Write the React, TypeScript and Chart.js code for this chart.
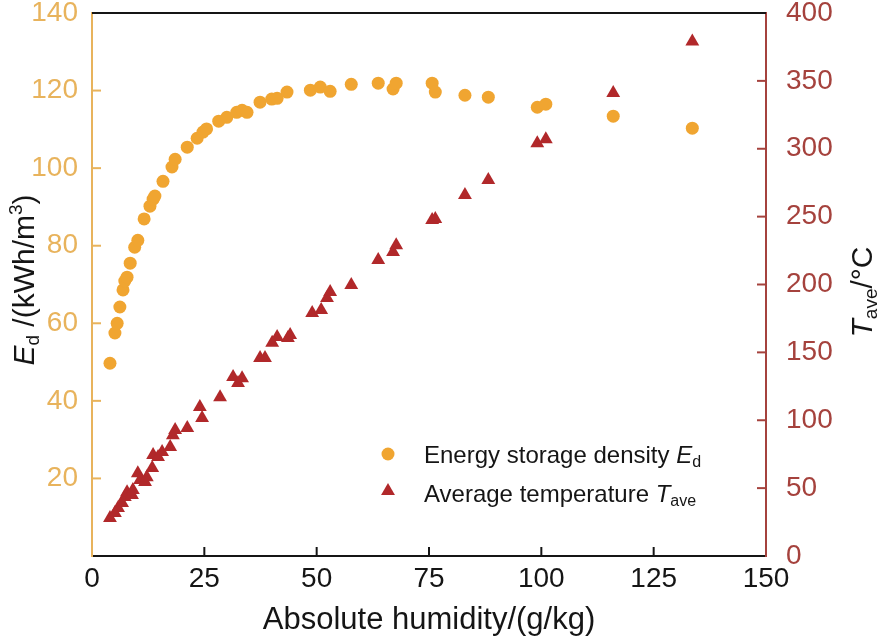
import React, { useEffect, useRef } from 'react';
import { Chart, registerables } from 'chart.js';

Chart.register(...registerables);

const FONT = '"Liberation Sans", Arial, Helvetica, sans-serif';
const ORANGE = '#F0A531';
const ORANGE_AXIS = '#E8B35C';
const RED = '#B1282A';
const RED_AXIS = '#A5423D';
const INK = '#151515';

// Energy storage density Ed (kWh/m3) vs absolute humidity (g/kg)
const edHumidity = [4.0, 5.1, 5.6, 6.2, 6.9, 7.3, 7.8, 8.5, 9.5, 10.2, 11.6, 12.9, 13.6, 14.0, 15.8, 17.8, 18.5, 21.2, 23.4, 24.7, 25.5, 28.2, 30.0, 32.2, 33.4, 34.5, 37.4, 40.0, 41.2, 43.4, 48.6, 50.8, 53.0, 57.7, 63.7, 67.0, 67.7, 75.7, 76.4, 83.0, 88.2, 99.1, 101.0, 116.0, 133.6];
const edValues = [49.7, 57.5, 60.0, 64.2, 68.6, 70.9, 71.9, 75.5, 79.6, 81.4, 86.9, 90.2, 92.0, 92.8, 96.6, 100.3, 102.3, 105.4, 107.7, 109.3, 110.1, 112.1, 113.1, 114.4, 114.9, 114.4, 117.0, 117.8, 118.0, 119.6, 120.1, 120.9, 119.8, 121.6, 121.9, 120.4, 121.9, 121.9, 119.6, 118.8, 118.3, 115.7, 116.5, 113.4, 110.3];

// Average temperature Tave (°C) vs absolute humidity (g/kg)
const tHumidity = [4.0, 5.1, 5.8, 6.7, 7.3, 7.8, 8.9, 9.1, 10.2, 10.7, 11.8, 12.2, 13.4, 13.6, 14.7, 15.6, 17.4, 18.0, 18.5, 21.2, 24.0, 24.5, 28.5, 31.4, 32.5, 33.4, 37.4, 38.5, 40.1, 41.2, 43.6, 44.1, 49.0, 51.0, 52.3, 53.0, 57.7, 63.7, 67.0, 67.7, 75.7, 76.4, 83.0, 88.2, 99.1, 101.0, 116.0, 133.6];
const tValues = [28, 31.7, 35.4, 39, 43.5, 47, 45, 48.6, 61, 56, 54.5, 58, 64.8, 74.4, 73, 76.6, 80.3, 89, 92.8, 94.3, 109.8, 101.7, 117, 131.9, 127.4, 131, 145.9, 145.9, 157, 161.3, 160.6, 162.8, 179, 181.2, 190, 194.5, 199.6, 218, 224, 229, 247.5, 248.3, 266, 277, 304, 307, 341, 379];

const xRange = [0, 150, 25];
const edRange = [0, 140, 20];
const tRange = [0, 400, 50];

const xTitle = 'Absolute humidity/(g/kg)';
const edLegend = ['Energy storage density ', 'E', 'd'];
const tLegend = ['Average temperature ', 'T', 'ave'];

type Seg = { t: string; size: number; italic?: boolean; dy?: number };

function drawRich(ctx: CanvasRenderingContext2D, segs: Seg[], x: number, y: number, align: 'left' | 'center', color: string) {
  let w = 0;
  for (const s of segs) {
    ctx.font = `${s.italic ? 'italic ' : ''}${s.size}px ${FONT}`;
    w += ctx.measureText(s.t).width;
  }
  let cx = align === 'center' ? x - w / 2 : x;
  ctx.fillStyle = color;
  ctx.textBaseline = 'alphabetic';
  ctx.textAlign = 'left';
  for (const s of segs) {
    ctx.font = `${s.italic ? 'italic ' : ''}${s.size}px ${FONT}`;
    ctx.fillText(s.t, cx, y + (s.dy || 0));
    cx += ctx.measureText(s.t).width;
  }
}

const decorPlugin = {
  id: 'decor',
  afterDraw(chart: any) {
    const { ctx, chartArea, scales } = chart;
    const { left, right, top, bottom } = chartArea;
    ctx.save();
    // top frame line
    ctx.strokeStyle = INK;
    ctx.lineWidth = 2;
    ctx.beginPath();
    ctx.moveTo(left, top);
    ctx.lineTo(right, top);
    ctx.stroke();

    const tl = 9;
    // inner ticks: x
    ctx.strokeStyle = INK;
    for (const t of scales.x.ticks) {
      const px = scales.x.getPixelForValue(t.value);
      if (px <= left + 1 || px >= right - 1) continue;
      ctx.beginPath();
      ctx.moveTo(px, bottom);
      ctx.lineTo(px, bottom - tl);
      ctx.stroke();
    }
    ctx.strokeStyle = ORANGE_AXIS;
    for (const t of scales.y.ticks) {
      const py = scales.y.getPixelForValue(t.value);
      if (py <= top + 1 || py >= bottom - 1) continue;
      ctx.beginPath();
      ctx.moveTo(left, py);
      ctx.lineTo(left + tl, py);
      ctx.stroke();
    }
    ctx.strokeStyle = RED_AXIS;
    for (const t of scales.y2.ticks) {
      const py = scales.y2.getPixelForValue(t.value);
      if (py <= top + 1 || py >= bottom - 1) continue;
      ctx.beginPath();
      ctx.moveTo(right, py);
      ctx.lineTo(right - tl, py);
      ctx.stroke();
    }

    // x title
    drawRich(ctx, [{ t: xTitle, size: 31 }], (left + right) / 2, 629, 'center', INK);

    // left title
    ctx.save();
    ctx.translate(34, 280);
    ctx.rotate(-Math.PI / 2);
    drawRich(ctx, [
      { t: 'E', size: 30, italic: true },
      { t: 'd', size: 19, dy: 5 },
      { t: ' /(kWh/m', size: 30 },
      { t: '3', size: 19, dy: -12 },
      { t: ')', size: 30 },
    ], 0, 0, 'center', INK);
    ctx.restore();

    // right title
    ctx.save();
    ctx.translate(872, 292);
    ctx.rotate(-Math.PI / 2);
    drawRich(ctx, [
      { t: 'T', size: 30, italic: true },
      { t: 'ave', size: 19, dy: 5 },
      { t: '/°C', size: 30 },
    ], 0, 0, 'center', INK);
    ctx.restore();

    // legend
    const lx = 388;
    const y1 = 454;
    const y2 = 491;
    ctx.fillStyle = ORANGE;
    ctx.beginPath();
    ctx.arc(lx, y1, 6.5, 0, Math.PI * 2);
    ctx.fill();
    ctx.fillStyle = RED;
    const r = 8;
    ctx.beginPath();
    ctx.moveTo(lx, y2 - r);
    ctx.lineTo(lx + r * Math.sin((2 * Math.PI) / 3), y2 + r / 2);
    ctx.lineTo(lx - r * Math.sin((2 * Math.PI) / 3), y2 + r / 2);
    ctx.closePath();
    ctx.fill();

    drawRich(ctx, [
      { t: edLegend[0], size: 24 },
      { t: edLegend[1], size: 24, italic: true },
      { t: edLegend[2], size: 16, dy: 4 },
    ], 424, 463, 'left', INK);
    drawRich(ctx, [
      { t: tLegend[0], size: 24 },
      { t: tLegend[1], size: 24, italic: true },
      { t: tLegend[2], size: 16, dy: 4 },
    ], 424, 502, 'left', INK);
    ctx.restore();
  },
};

export default function App() {
  const ref = useRef<HTMLCanvasElement | null>(null);
  useEffect(() => {
    document.body.style.margin = '0';
    const canvas = ref.current;
    if (!canvas) return;
    const chart = new Chart(canvas, {
      type: 'scatter',
      data: {
        datasets: [
          {
            label: 'Energy storage density Ed',
            data: edHumidity.map((x, i) => ({ x, y: edValues[i] })),
            yAxisID: 'y',
            pointStyle: 'circle',
            pointRadius: 6.5,
            pointBackgroundColor: ORANGE,
            pointBorderWidth: 0,
            pointBorderColor: ORANGE,
          },
          {
            label: 'Average temperature Tave',
            data: tHumidity.map((x, i) => ({ x, y: tValues[i] })),
            yAxisID: 'y2',
            pointStyle: 'triangle',
            pointRadius: 8,
            pointBackgroundColor: RED,
            pointBorderWidth: 0,
            pointBorderColor: RED,
          },
        ],
      },
      options: {
        animation: false,
        responsive: false,
        devicePixelRatio: 1,
        layout: { padding: { top: 13, left: 0, right: 0, bottom: 0 } },
        plugins: { legend: { display: false }, tooltip: { enabled: false } },
        scales: {
          x: {
            type: 'linear',
            min: xRange[0],
            max: xRange[1],
            afterFit: (s: any) => { s.height = 84; s.paddingLeft = 0; s.paddingRight = 0; },
            ticks: { stepSize: xRange[2], color: INK, font: { size: 28, family: FONT, lineHeight: 1 }, padding: 9, maxRotation: 0 },
            grid: { display: true, drawOnChartArea: false, drawTicks: false },
            border: { display: true, color: INK, width: 2 },
          },
          y: {
            type: 'linear',
            position: 'left',
            min: edRange[0],
            max: edRange[1],
            afterFit: (s: any) => { s.width = 92; s.paddingTop = 0; s.paddingBottom = 0; },
            ticks: {
              stepSize: edRange[2],
              color: ORANGE_AXIS,
              font: { size: 28, family: FONT, lineHeight: 1 },
              padding: 14,
              callback: (v: any) => (v === 0 ? '' : String(v)),
            },
            grid: { display: true, drawOnChartArea: false, drawTicks: false },
            border: { display: true, color: ORANGE_AXIS, width: 2 },
          },
          y2: {
            type: 'linear',
            position: 'right',
            min: tRange[0],
            max: tRange[1],
            afterFit: (s: any) => { s.width = 121; s.paddingTop = 0; s.paddingBottom = 0; },
            ticks: { stepSize: tRange[2], color: RED_AXIS, font: { size: 28, family: FONT, lineHeight: 1 }, padding: 20 },
            grid: { display: true, drawOnChartArea: false, drawTicks: false },
            border: { display: true, color: RED_AXIS, width: 2 },
          },
        },
      },
      plugins: [decorPlugin],
    });
    return () => chart.destroy();
  }, []);
  return <canvas ref={ref} width={887} height={640} style={{ display: 'block' }} />;
}
